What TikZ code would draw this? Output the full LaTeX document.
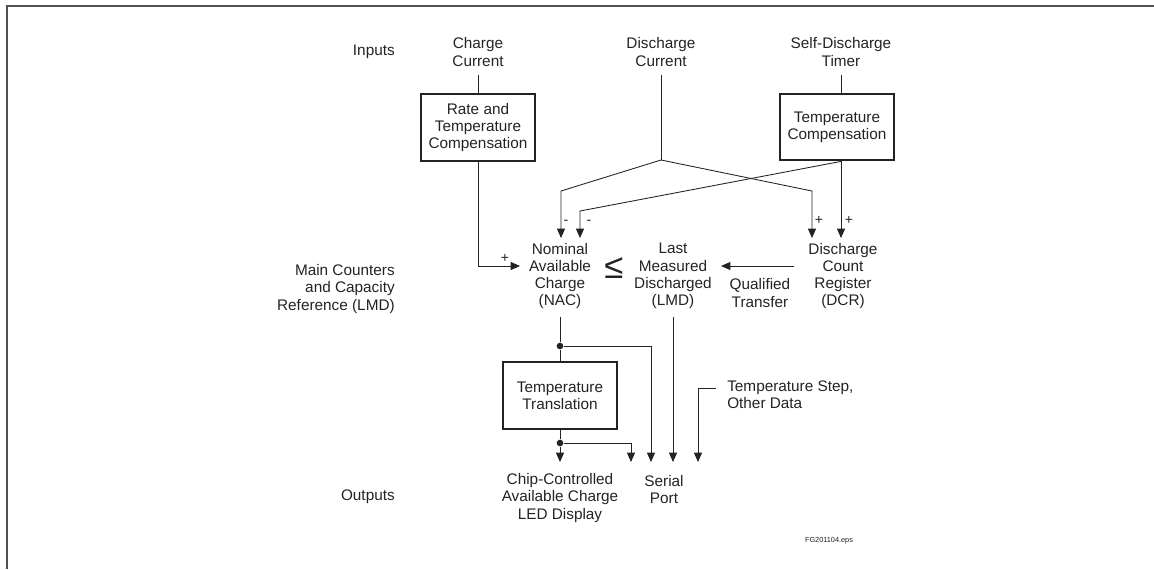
\documentclass[tikz,border=0pt]{standalone}
\usepackage{fontspec}
\setmainfont{Liberation Sans}
\usepackage{tikz}
\usetikzlibrary{arrows.meta,positioning}
\definecolor{ink}{RGB}{35, 35, 35}
\definecolor{framegray}{RGB}{80, 80, 80}
\tikzstyle{block} = [
    rectangle,
    draw=ink,
    line width=1.6pt,
    minimum width=85.5pt,
    minimum height=50pt,
    align=center,
    inner sep=0pt
]
\tikzstyle{txt} = [
    align=center,
    inner sep=0pt
]
\tikzstyle{rowtxt} = [
    anchor=east,
    align=right,
    inner sep=0pt
]
\tikzstyle{wire} = [
    draw=ink,
    line width=0.65pt
]
\tikzstyle{arrow} = [
    wire,
    -{Triangle[length=7pt,width=6pt]}
]
\tikzstyle{sign} = [
    inner sep=0pt,
    font=\fontsize{10.5}{11}\selectfont
]
\tikzstyle{dot} = [
    circle,
    fill=ink,
    inner sep=0pt,
    minimum size=5pt
]
\begin{document}
\begin{tikzpicture}[
        x=0.75pt, y=-0.75pt,
        every node/.style={
            font=\fontsize{11.5}{12.9}\selectfont,
            text=ink
        }
    ]
        \useasboundingbox (0,0) rectangle (1154,569);
        \draw[framegray, line width=1pt] (7,569) -- (7,6) -- (1154,6);

        % row captions
        \node[rowtxt] (inputs) at (395,52) {Inputs};
        \node[rowtxt] (counters) at (395,289) {Main Counters\\and Capacity\\Reference (LMD)};
        \node[rowtxt] (outputs) at (395,497) {Outputs};

        % inputs
        \node[txt] (charge) at (478,52) {Charge\\Current};
        \node[txt] (discharge) at (661,52) {Discharge\\Current};
        \node[txt] (selfdis) at (841,52) {Self-Discharge\\Timer};
        \node[block] (rate) at (478,127.5) {Rate and\\Temperature\\Compensation};
        \node[block] (tcomp) at (837,127) {Temperature\\Compensation};

        % counters
        \node[txt, font=\fontsize{26}{26}\selectfont] (leq) at (614,268) {≤};
        \node[txt] (nac) at (560,276) {Nominal\\Available\\Charge\\(NAC)};
        \node[txt] (lmd) at (673,276) {Last\\Measured\\Discharged\\(LMD)};
        \node[txt] (qual) at (760,293) {Qualified\\Transfer};
        \node[txt] (dcr) at (843,276) {Discharge\\Count\\Register\\(DCR)};

        \coordinate (junc) at (661,160);
        \coordinate (nacm1) at (561,238);
        \coordinate (nacm2) at (580,238);
        \coordinate (dcrp1) at (812,238);
        \coordinate (dcrp2) at (841,238);
        \coordinate (nacp) at (520,266);

        \draw[wire] (charge.south) ++(0,8) -- (rate);
        \draw[wire] (discharge.south) ++(0,8) -- (junc);
        \draw[wire] (selfdis.south) ++(0,8) -- (selfdis.south |- tcomp.north);

        \draw[arrow] (junc) -- (561,191) -- (nacm1);
        \draw[arrow] (junc) -- (812,191) -- (dcrp1);
        \draw[arrow] (tcomp.south -| dcrp2) -- (580,211) -- (nacm2);
        \draw[arrow] (tcomp.south -| dcrp2) -- (dcrp2);
        \draw[arrow] (rate) |- (nacp);
        \draw[arrow] ([shift={(-14,-10)}]dcr.west) -- ([shift={(9,-10)}]lmd.east);

        \node[sign] (m1) at (566,222) {-};
        \node[sign] (m2) at (589,222) {-};
        \node[sign] (p1) at (819,220) {+};
        \node[sign] (p2) at (849,220) {+};
        \node[sign] (p3) at (505,258) {+};

        % outputs
        \node[dot] (tap1) at (560,346) {};
        \node[block] (ttrans) at (560,395.5) {Temperature\\Translation};
        \node[dot] (tap2) at (560,443) {};
        \node[txt, anchor=west, align=left] (tstep) at (727,395) {Temperature Step,\\Other Data};
        \node[txt] (led) at (560,498) {Chip-Controlled\\Available Charge\\LED Display};
        \node[txt] (serial) at (664,489.5) {Serial\\Port};
        \node[inner sep=0pt, font=\fontsize{5.5}{6}\selectfont] (fg) at (829,541) {FG201104.eps};

        \coordinate (ledin) at (560,462);
        \coordinate (sp1) at (631,462);
        \coordinate (sp2) at (651,462);
        \coordinate (sp3) at (673,462);
        \coordinate (sp4) at (698,462);

        \draw[wire] (nac.south) ++(0,8) -- (tap1) -- (ttrans);
        \draw[arrow] (ttrans) -- (tap2) -- (ledin);
        \draw[arrow] (tap1) -| (sp2);
        \draw[arrow] (tap2) -| (sp1);
        \draw[arrow] (lmd.south) ++(0,8) -- (sp3);
        \draw[arrow] ([shift={(-11,-7)}]tstep.west) -| (sp4);
    \end{tikzpicture}
\end{document}
